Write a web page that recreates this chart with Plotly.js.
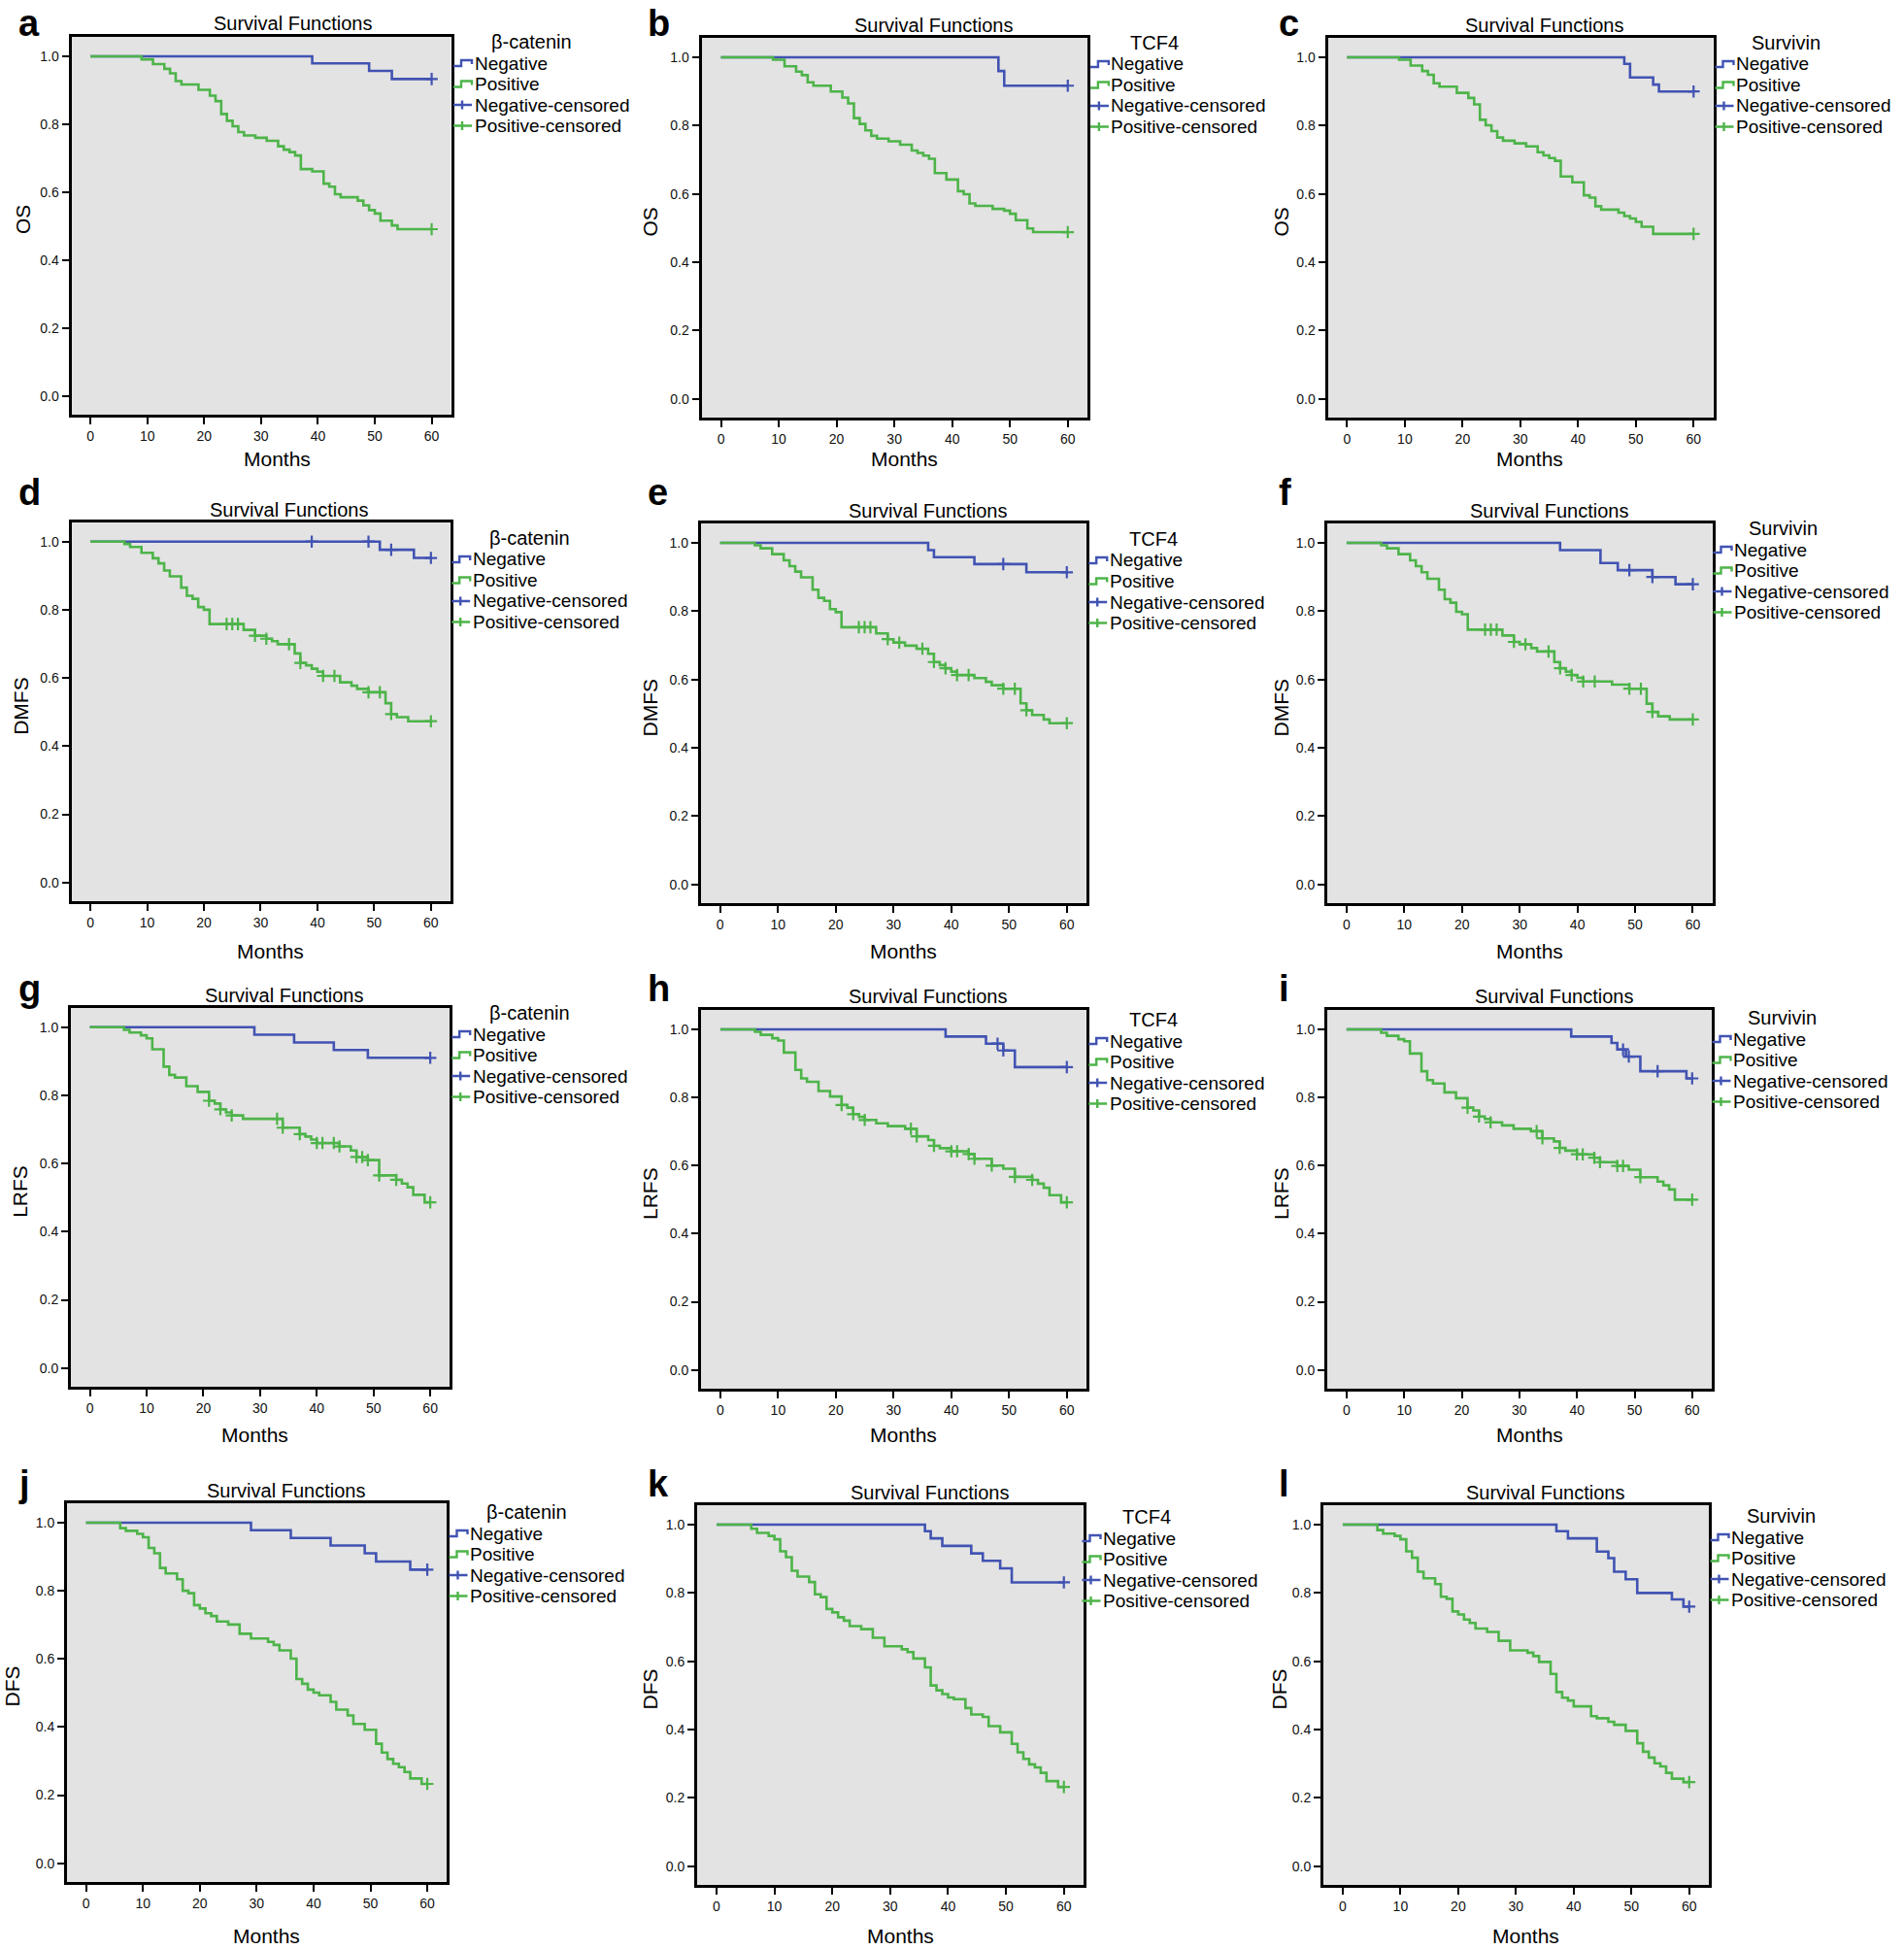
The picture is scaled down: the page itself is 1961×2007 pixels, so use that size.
<!DOCTYPE html>
<html>
<head>
<meta charset="utf-8">
<script src="https://cdn.plot.ly/plotly-3.0.1.min.js"></script>
<style>html,body{margin:0;padding:0;background:#fff;}#chart{width:1961px;height:2007px;}</style>
</head>
<body>
<div id="chart"></div>
<script>
// ---------------- DATA ----------------
const panelLetters = ['a','b','c','d','e','f','g','h','i','j','k','l'];
const markerNames = ['β-catenin', 'TCF4', 'Survivin'];          // by column
const outcomeNames = ['OS', 'DMFS', 'LRFS', 'DFS'];              // by row
const seriesNames = ['Negative', 'Positive', 'Negative-censored', 'Positive-censored'];
const xTickVals = [0, 10, 20, 30, 40, 50, 60];
const yTickVals = [0, 0.2, 0.4, 0.6, 0.8, 1.0];
const followUpEnd = 60;

// a: OS, beta-catenin
const a_negT = [39, 49, 53];
const a_negS = [0.979, 0.957, 0.933];
const a_negC = [60];
const a_posT = [9, 11, 13, 14, 15, 16, 19, 21, 22, 23, 24, 25, 26, 27, 29, 31, 33, 34, 35, 36, 37, 39, 41, 42, 43, 44, 47, 48, 49, 50, 51, 53, 54];
const a_posS = [0.991, 0.977, 0.963, 0.95, 0.927, 0.917, 0.901, 0.884, 0.868, 0.83, 0.81, 0.794, 0.777, 0.767, 0.76, 0.751, 0.735, 0.725, 0.718, 0.708, 0.668, 0.661, 0.625, 0.616, 0.594, 0.585, 0.575, 0.561, 0.547, 0.537, 0.516, 0.502, 0.491];
const a_posC = [60];
// b: OS, TCF4
const b_negT = [48, 49];
const b_negS = [0.96, 0.917];
const b_negC = [60];
const b_posT = [9, 11, 13, 14, 15, 16, 19, 21, 22, 23, 24, 25, 26, 27, 29, 31, 33, 34, 35, 36, 37, 39, 41, 42, 43, 44, 47, 49, 50, 51, 53, 54];
const b_posS = [0.993, 0.974, 0.958, 0.948, 0.927, 0.917, 0.9, 0.882, 0.865, 0.822, 0.805, 0.786, 0.77, 0.762, 0.754, 0.744, 0.727, 0.72, 0.712, 0.703, 0.661, 0.642, 0.608, 0.599, 0.572, 0.565, 0.556, 0.551, 0.542, 0.523, 0.499, 0.488];
const b_posC = [60];
// c: OS, Survivin
const c_negT = [48, 49, 53, 54];
const c_negS = [0.981, 0.941, 0.92, 0.9];
const c_negC = [60];
const c_posT = [9, 11, 13, 14, 15, 16, 19, 21, 22, 23, 24, 25, 26, 27, 29, 31, 33, 34, 35, 36, 37, 39, 41, 42, 43, 44, 47, 48, 49, 50, 51, 53];
const c_posS = [0.993, 0.976, 0.96, 0.949, 0.924, 0.914, 0.896, 0.881, 0.862, 0.817, 0.801, 0.784, 0.765, 0.756, 0.748, 0.739, 0.722, 0.713, 0.705, 0.697, 0.651, 0.634, 0.596, 0.589, 0.564, 0.554, 0.545, 0.535, 0.528, 0.518, 0.504, 0.483];
const c_posC = [60];
// d: DMFS, beta-catenin
const d_negT = [51, 57];
const d_negS = [0.976, 0.952];
const d_negC = [39, 49, 53, 60];
const d_posT = [6, 7, 9, 11, 12, 13, 14, 16, 17, 18, 19, 20, 21, 27, 29, 31, 32, 33, 36, 37, 38, 39, 40, 41, 44, 46, 47, 49, 52, 53, 54, 56];
const d_posS = [0.993, 0.984, 0.967, 0.951, 0.936, 0.915, 0.898, 0.865, 0.841, 0.832, 0.808, 0.8, 0.758, 0.741, 0.724, 0.715, 0.708, 0.699, 0.672, 0.644, 0.637, 0.627, 0.618, 0.606, 0.587, 0.577, 0.568, 0.558, 0.526, 0.494, 0.485, 0.473];
const d_posC = [24, 25, 26, 29, 31, 35, 37, 41, 43, 49, 51, 53, 60];
// e: DMFS, TCF4
const e_negT = [36, 37, 44, 53];
const e_negS = [0.979, 0.958, 0.938, 0.914];
const e_negC = [49, 60];
const e_posT = [6, 7, 9, 11, 12, 13, 14, 16, 17, 18, 19, 20, 21, 27, 29, 30, 32, 34, 36, 37, 38, 39, 40, 41, 44, 46, 47, 49, 52, 53, 54, 56, 57];
const e_posS = [0.993, 0.984, 0.967, 0.949, 0.932, 0.916, 0.899, 0.863, 0.839, 0.83, 0.806, 0.797, 0.753, 0.735, 0.718, 0.708, 0.699, 0.69, 0.675, 0.651, 0.642, 0.633, 0.623, 0.613, 0.604, 0.593, 0.583, 0.573, 0.53, 0.51, 0.496, 0.483, 0.472];
const e_posC = [24, 25, 26, 29, 31, 35, 37, 39, 41, 43, 49, 51, 53, 60];
// f: DMFS, Survivin
const f_negT = [37, 44, 47, 53, 57];
const f_negS = [0.979, 0.941, 0.92, 0.9, 0.879];
const f_negC = [49, 53, 60];
const f_posT = [6, 7, 9, 11, 12, 13, 14, 16, 17, 18, 19, 20, 21, 27, 29, 30, 32, 33, 36, 37, 38, 39, 40, 41, 46, 49, 52, 53, 54, 56];
const f_posS = [0.993, 0.984, 0.967, 0.949, 0.932, 0.914, 0.895, 0.863, 0.835, 0.825, 0.798, 0.791, 0.746, 0.729, 0.71, 0.703, 0.692, 0.682, 0.651, 0.633, 0.623, 0.613, 0.605, 0.594, 0.585, 0.573, 0.529, 0.505, 0.492, 0.483];
const f_posC = [24, 25, 26, 29, 31, 35, 37, 39, 41, 43, 49, 51, 53, 60];
// g: LRFS, beta-catenin
const g_negT = [29, 36, 43, 49];
const g_negS = [0.978, 0.955, 0.933, 0.91];
const g_negC = [60];
const g_posT = [6, 7, 9, 10, 11, 13, 14, 15, 17, 19, 21, 22, 23, 24, 25, 27, 34, 37, 38, 39, 40, 44, 46, 47, 49, 51, 54, 55, 56, 57, 59];
const g_posS = [0.992, 0.984, 0.976, 0.967, 0.935, 0.884, 0.86, 0.852, 0.827, 0.81, 0.784, 0.776, 0.759, 0.75, 0.741, 0.731, 0.705, 0.686, 0.679, 0.67, 0.66, 0.65, 0.638, 0.619, 0.61, 0.565, 0.552, 0.541, 0.53, 0.508, 0.486];
const g_posC = [21, 23, 25, 33, 34, 37, 40, 41, 43, 44, 47, 48, 49, 51, 54, 60];
// h: LRFS, TCF4
const h_negT = [39, 46, 49, 51];
const h_negS = [0.979, 0.958, 0.938, 0.889];
const h_negC = [48, 49, 60];
const h_posT = [6, 7, 9, 10, 11, 13, 14, 15, 17, 19, 21, 22, 23, 24, 25, 27, 29, 32, 34, 36, 37, 38, 40, 43, 44, 47, 49, 51, 54, 55, 56, 57, 59];
const h_posS = [0.993, 0.984, 0.974, 0.967, 0.932, 0.881, 0.856, 0.846, 0.819, 0.803, 0.778, 0.77, 0.751, 0.743, 0.734, 0.724, 0.716, 0.708, 0.686, 0.675, 0.658, 0.651, 0.642, 0.634, 0.62, 0.6, 0.591, 0.567, 0.558, 0.547, 0.535, 0.513, 0.492];
const h_posC = [21, 23, 25, 33, 34, 37, 40, 41, 43, 44, 47, 51, 54, 60];
// i: LRFS, Survivin
const i_negT = [39, 46, 47, 48.5, 51, 59];
const i_negS = [0.979, 0.96, 0.941, 0.92, 0.877, 0.856];
const i_negC = [48, 49, 54, 60];
const i_posT = [6, 7, 9, 10, 11, 13, 14, 15, 17, 19, 21, 22, 23, 24, 25, 27, 29, 32, 34, 36, 37, 38, 40, 43, 44, 47, 49, 51, 54, 55, 56, 57];
const i_posS = [0.99, 0.981, 0.971, 0.965, 0.929, 0.877, 0.851, 0.841, 0.815, 0.798, 0.77, 0.762, 0.744, 0.737, 0.727, 0.718, 0.708, 0.701, 0.68, 0.671, 0.652, 0.644, 0.633, 0.623, 0.61, 0.599, 0.588, 0.566, 0.553, 0.542, 0.53, 0.5];
const i_posC = [21, 23, 25, 33, 34, 37, 40, 41, 43, 44, 47, 48, 51, 60];
// j: DFS, beta-catenin
const j_negT = [29, 36, 43, 49, 51, 57];
const j_negS = [0.978, 0.955, 0.933, 0.91, 0.886, 0.862];
const j_negC = [60];
const j_posT = [6, 7, 9, 10, 11, 12, 13, 14, 16, 17, 18, 19, 20, 21, 22, 23, 25, 27, 29, 32, 33, 34, 36, 37, 38, 39, 40, 41, 43, 44, 46, 47, 49, 51, 52, 53, 54, 55, 56, 57, 59];
const j_posS = [0.984, 0.976, 0.967, 0.957, 0.926, 0.91, 0.867, 0.851, 0.834, 0.8, 0.793, 0.758, 0.748, 0.734, 0.726, 0.71, 0.701, 0.674, 0.66, 0.65, 0.641, 0.625, 0.601, 0.541, 0.527, 0.51, 0.501, 0.493, 0.474, 0.451, 0.434, 0.409, 0.392, 0.351, 0.325, 0.306, 0.292, 0.282, 0.268, 0.249, 0.233];
const j_posC = [60];
// k: DFS, TCF4
const k_negT = [36, 37, 39, 44, 46, 49, 51];
const k_negS = [0.981, 0.96, 0.938, 0.916, 0.894, 0.872, 0.831];
const k_negC = [60];
const k_posT = [6, 7, 9, 10, 11, 12, 13, 14, 16, 17, 18, 19, 20, 21, 22, 23, 25, 27, 29, 32, 33, 34, 36, 37, 38, 39, 40, 41, 43, 44, 46, 47, 49, 51, 52, 53, 54, 55, 56, 57, 59];
const k_posS = [0.988, 0.976, 0.967, 0.957, 0.922, 0.905, 0.865, 0.848, 0.832, 0.796, 0.788, 0.753, 0.743, 0.729, 0.719, 0.703, 0.694, 0.669, 0.644, 0.635, 0.627, 0.608, 0.582, 0.529, 0.515, 0.504, 0.494, 0.489, 0.463, 0.444, 0.437, 0.41, 0.392, 0.358, 0.333, 0.314, 0.298, 0.289, 0.273, 0.249, 0.232];
const k_posC = [60];
// l: DFS, Survivin
const l_negT = [37, 39, 44, 46, 47, 49, 51, 57, 59];
const l_negS = [0.981, 0.96, 0.921, 0.902, 0.862, 0.84, 0.8, 0.781, 0.76];
const l_negC = [60];
const l_posT = [6, 7, 9, 10, 11, 12, 13, 14, 16, 17, 18, 19, 20, 21, 22, 23, 25, 27, 29, 32, 33, 34, 36, 37, 38, 39, 40, 43, 44, 46, 47, 49, 51, 52, 53, 54, 55, 56, 57, 59];
const l_posS = [0.984, 0.974, 0.967, 0.957, 0.922, 0.903, 0.862, 0.843, 0.826, 0.789, 0.783, 0.746, 0.737, 0.722, 0.712, 0.696, 0.686, 0.66, 0.632, 0.625, 0.615, 0.598, 0.563, 0.51, 0.493, 0.485, 0.468, 0.439, 0.433, 0.423, 0.414, 0.396, 0.36, 0.335, 0.318, 0.301, 0.292, 0.273, 0.256, 0.246];
const l_posC = [60];

const panelData = [
  [a_negT, a_negS, a_negC, a_posT, a_posS, a_posC],
  [b_negT, b_negS, b_negC, b_posT, b_posS, b_posC],
  [c_negT, c_negS, c_negC, c_posT, c_posS, c_posC],
  [d_negT, d_negS, d_negC, d_posT, d_posS, d_posC],
  [e_negT, e_negS, e_negC, e_posT, e_posS, e_posC],
  [f_negT, f_negS, f_negC, f_posT, f_posS, f_posC],
  [g_negT, g_negS, g_negC, g_posT, g_posS, g_posC],
  [h_negT, h_negS, h_negC, h_posT, h_posS, h_posC],
  [i_negT, i_negS, i_negC, i_posT, i_posS, i_posC],
  [j_negT, j_negS, j_negC, j_posT, j_posS, j_posC],
  [k_negT, k_negS, k_negC, k_posT, k_posS, k_posC],
  [l_negT, l_negS, l_negC, l_posT, l_posS, l_posC]
];

// ---------------- LAYOUT / STYLE ----------------
const W = 1961, H = 2007;
const fx = p => p / W, fy = p => 1 - p / H;
const FONT = 'Liberation Sans, Arial, Helvetica, sans-serif';
const NEG = '#4153b2', POS = '#4db449';

// plot frames in page pixels: [left, right, top, bottom]
const frames = [
  [73.5, 464.5, 38, 427], [722.6, 1120, 39, 430], [1367.5, 1764.5, 39, 430],
  [73.5, 463.7, 537.7, 928], [721.8, 1119, 539, 930], [1367, 1763.7, 539, 930],
  [73, 463, 1037.7, 1428], [722, 1119, 1040, 1430], [1367, 1763, 1040, 1430],
  [69, 460, 1548, 1938], [718, 1116, 1550, 1941], [1363, 1760, 1550, 1941]
];
const titlePos = [[301,24],[961,26],[1590,26],[297.6,525],[955.6,526],[1595,526],[292,1025],[955,1026],[1600,1026],[294,1535],[957,1537],[1591,1537]];
const monthsPos = [[285.5,472],[931,472],[1575.6,472],[278,979],[930,979],[1575,979],[262,1477],[930,1477],[1575,1477],[274,1993],[927,1993],[1571,1993]];
const yTitleX = [23.5,669,1319, 22,669,1319, 21,669,1319, 11.5,669,1317];
const letterX = [17, 665, 1315];
const letterBase = [37, 520, 1031, 1541];
// legend: [title center x, text left x, first entry y]
const legendPos = [
  [547, 488.5, 68], [1189, 1144.4, 69], [1839, 1788, 69],
  [545.5, 486.7, 579], [1188, 1142.7, 580], [1836, 1786, 569],
  [545.5, 486.7, 1068], [1188, 1142.7, 1075], [1835.6, 1785, 1073],
  [542.7, 484, 1582], [1181, 1136, 1587], [1834, 1783, 1586]
];
const LEG_FONT = 19, LEG_STEP = 21.5, LEG_TITLE_FONT = 20;

function survAt(T, S, t) {
  let v = 1;
  for (let q = 0; q < T.length; q++) { if (T[q] <= t) v = S[q]; }
  return v;
}

const traces = [];
const annotations = [];
const shapes = [];
const layout = {
  width: W, height: H,
  margin: {l: 0, r: 0, t: 0, b: 0},
  paper_bgcolor: '#ffffff',
  plot_bgcolor: '#e3e3e3',
  showlegend: false,
  font: {family: FONT, color: '#000'},
  annotations: annotations,
  shapes: shapes
};

panelData.forEach((pd, p) => {
  const [negT, negS, negC, posT, posS, posC] = pd;
  const sfx = p === 0 ? '' : String(p + 1);
  const xa = 'x' + sfx, ya = 'y' + sfx;
  const fr = frames[p];
  const col = p % 3, row = Math.floor(p / 3);

  layout['xaxis' + sfx] = {
    domain: [fx(fr[0]), fx(fr[1])], anchor: ya, range: [-3.35, 63.4],
    showline: true, mirror: true, linecolor: '#000', linewidth: 3,
    ticks: 'outside', ticklen: 7, tickwidth: 2, tickcolor: '#000',
    tickvals: xTickVals, showgrid: false, zeroline: false, fixedrange: true,
    tickfont: {family: FONT, size: 14, color: '#111'}
  };
  layout['yaxis' + sfx] = {
    domain: [fy(fr[3]), fy(fr[2])], anchor: xa, range: [-0.055, 1.057],
    showline: true, mirror: true, linecolor: '#000', linewidth: 3,
    ticks: 'outside', ticklen: 7, tickwidth: 2, tickcolor: '#000',
    tickvals: yTickVals, tickformat: '.1f', showgrid: false, zeroline: false, fixedrange: true,
    tickfont: {family: FONT, size: 14, color: '#111'}
  };

  const lastNeg = negS.length ? negS[negS.length - 1] : 1;
  const lastPos = posS.length ? posS[posS.length - 1] : 1;
  traces.push({
    type: 'scatter', mode: 'lines', xaxis: xa, yaxis: ya, name: seriesNames[0],
    x: [0, ...negT, followUpEnd], y: [1, ...negS, lastNeg],
    line: {shape: 'hv', color: NEG, width: 2.6}, hoverinfo: 'skip'
  });
  traces.push({
    type: 'scatter', mode: 'lines', xaxis: xa, yaxis: ya, name: seriesNames[1],
    x: [0, ...posT, followUpEnd], y: [1, ...posS, lastPos],
    line: {shape: 'hv', color: POS, width: 2.6}, hoverinfo: 'skip'
  });
  traces.push({
    type: 'scatter', mode: 'markers', xaxis: xa, yaxis: ya, name: seriesNames[2],
    x: negC, y: negC.map(t => survAt(negT, negS, t)), cliponaxis: false,
    marker: {symbol: 'cross-thin', size: 9, color: NEG, line: {color: NEG, width: 2.2}}
  });
  traces.push({
    type: 'scatter', mode: 'markers', xaxis: xa, yaxis: ya, name: seriesNames[3],
    x: posC, y: posC.map(t => survAt(posT, posS, t)), cliponaxis: false,
    marker: {symbol: 'cross-thin', size: 9, color: POS, line: {color: POS, width: 2.2}}
  });

  // panel letter
  annotations.push({
    xref: 'paper', yref: 'paper', x: fx(letterX[col]), y: fy(letterBase[row] - 13),
    xanchor: 'left', yanchor: 'middle', showarrow: false, text: '<b>' + panelLetters[p] + '</b>',
    font: {family: FONT, size: 38, color: '#000'}
  });
  // title
  annotations.push({
    xref: 'paper', yref: 'paper', x: fx(titlePos[p][0]), y: fy(titlePos[p][1]),
    xanchor: 'center', yanchor: 'middle', showarrow: false, text: 'Survival Functions',
    font: {family: FONT, size: 20, color: '#000'}
  });
  // x title
  annotations.push({
    xref: 'paper', yref: 'paper', x: fx(monthsPos[p][0]), y: fy(monthsPos[p][1]),
    xanchor: 'center', yanchor: 'middle', showarrow: false, text: 'Months',
    font: {family: FONT, size: 21, color: '#000'}
  });
  // y title
  annotations.push({
    xref: 'paper', yref: 'paper', x: fx(yTitleX[p]), y: fy((fr[2] + fr[3]) / 2 - 6),
    xanchor: 'center', yanchor: 'middle', showarrow: false, textangle: -90, text: outcomeNames[row],
    font: {family: FONT, size: 21, color: '#000'}
  });
  // legend
  const lg = legendPos[p];
  const y0 = lg[2] - 3;
  annotations.push({
    xref: 'paper', yref: 'paper', x: fx(lg[0]), y: fy(y0 - 22.5),
    xanchor: 'center', yanchor: 'middle', showarrow: false, text: markerNames[col],
    font: {family: FONT, size: LEG_TITLE_FONT, color: '#000'}
  });
  const colors = [NEG, POS, NEG, POS];
  seriesNames.forEach((nm, q) => {
    const yc = y0 + q * LEG_STEP;
    annotations.push({
      xref: 'paper', yref: 'paper', x: fx(lg[1] - 2), y: fy(yc),
      xanchor: 'left', yanchor: 'middle', showarrow: false, text: nm,
      font: {family: FONT, size: LEG_FONT, color: '#000'}
    });
    const x0 = lg[1] - 21.5, x1 = x0 + 19;
    let path;
    if (q < 2) {
      path = `M ${fx(x0)},${fy(yc + 3)} L ${fx(x0 + 8)},${fy(yc + 3)} L ${fx(x0 + 8)},${fy(yc - 3)} L ${fx(x1)},${fy(yc - 3)} L ${fx(x1)},${fy(yc + 1)}`;
    } else {
      path = `M ${fx(x0)},${fy(yc)} L ${fx(x1)},${fy(yc)} M ${fx(x0 + 9)},${fy(yc - 4.5)} L ${fx(x0 + 9)},${fy(yc + 4.5)}`;
    }
    shapes.push({type: 'path', xref: 'paper', yref: 'paper', path: path, line: {color: colors[q], width: 2.4}});
  });
});

Plotly.newPlot('chart', traces, layout, {staticPlot: true, displayModeBar: false});
</script>
</body>
</html>
